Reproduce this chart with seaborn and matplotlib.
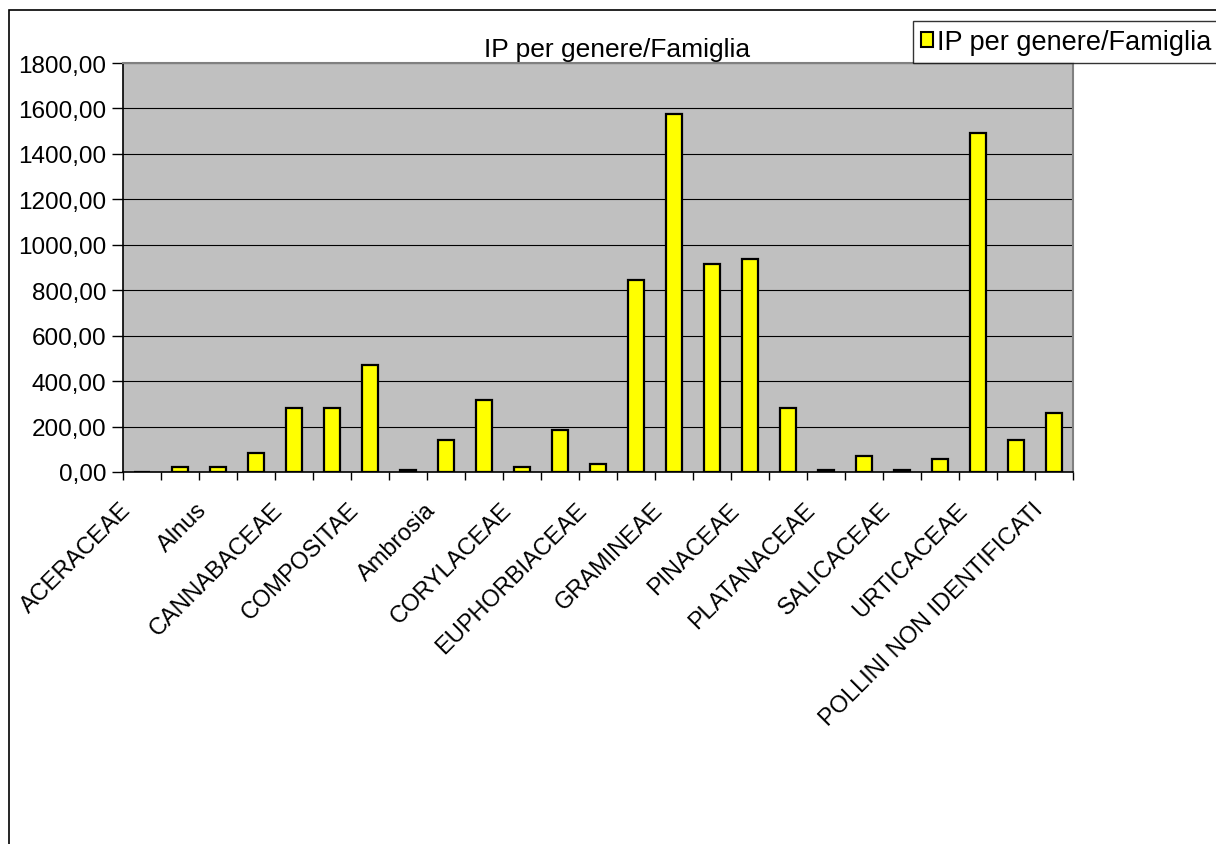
import numpy as np
import pandas as pd
import seaborn as sns
import matplotlib
matplotlib.use("Agg")
import matplotlib.pyplot as plt
import matplotlib.transforms as mtransforms
from matplotlib.patches import Rectangle, Patch
from matplotlib.ticker import FixedLocator, FuncFormatter

# Pollen index per family / genus
categories = [
    "ACERACEAE", "BETULACEAE", "Alnus", "Betula", "CANNABACEAE",
    "CHENOPODIACEAE/AMARANTHACEAE", "COMPOSITAE", "Artemisia", "Ambrosia",
    "CUPRESSACEAE/TAXACEAE", "CORYLACEAE", "Corylus", "EUPHORBIACEAE",
    "FAGACEAE", "GRAMINEAE", "OLEACEAE", "PINACEAE", "PLANTAGINACEAE",
    "PLATANACEAE", "POLYGONACEAE", "SALICACEAE", "ULMACEAE", "URTICACEAE",
    "ALTRI POLLINI", "POLLINI NON IDENTIFICATI",
]
ip_values = [2, 24, 24, 82, 280, 280, 470, 10, 139, 317, 24, 187, 34,
             845, 1574, 917, 939, 280, 10, 69, 10, 59, 1492, 139, 258]
series_name = "IP per genere/Famiglia"
y_ticks = [0, 200, 400, 600, 800, 1000, 1200, 1400, 1600, 1800]

sns.set_style("white")
plt.rcParams["font.family"] = ["Liberation Sans", "DejaVu Sans"]
plt.rcParams["text.color"] = "black"
plt.rcParams["xtick.color"] = "black"
plt.rcParams["ytick.color"] = "black"
plt.rcParams["axes.labelcolor"] = "black"

W, H = 1216, 845
fig = plt.figure(figsize=(W / 100, H / 100), dpi=100)
ax = fig.add_axes([123 / W, 1 - 473 / H, (1073 - 123) / W, (473 - 64) / H])
ax.set_facecolor("#C0C0C0")

df = pd.DataFrame({"categoria": categories, "IP": ip_values})
sns.barplot(data=df, x="categoria", y="IP", order=categories, color="#FFFF00",
            saturation=1, width=0.42, edgecolor="black", linewidth=1.6, ax=ax)

ax.set_xlim(-0.5, len(categories) - 0.5)
ax.set_ylim(0, 1800)
ax.set_xlabel("")
ax.set_ylabel("")

# y axis: comma decimal labels, outward ticks, black gridlines
ax.set_yticks(y_ticks)
ax.yaxis.set_major_formatter(FuncFormatter(lambda v, p: f"{v:.2f}".replace(".", ",")))
ax.tick_params(axis="y", which="major", direction="out", length=8, width=1,
               color="black", pad=4, labelsize=17.5, labelcolor="black", left=True)
ax.yaxis.grid(True, color="black", linewidth=0.8)
ax.set_axisbelow(True)

# x axis: tick marks on category boundaries, every other label shown
ax.set_xticks(range(len(categories)))
ax.set_xticklabels([c if i % 2 == 0 else "" for i, c in enumerate(categories)],
                   rotation=45, ha="right", va="top", rotation_mode="anchor",
                   fontsize=17, color="black")
ax.xaxis.set_minor_locator(FixedLocator(np.arange(-0.5, len(categories), 1.0)))
ax.tick_params(axis="x", which="major", length=0, pad=19)
ax.tick_params(axis="x", which="minor", direction="out", length=6, width=1,
               color="black", bottom=True)
shift = mtransforms.ScaledTranslation(-22 / 100, 0, fig.dpi_scale_trans)
for lbl in ax.get_xticklabels():
    lbl.set_transform(lbl.get_transform() + shift)

for side in ["left", "bottom"]:
    ax.spines[side].set_color("black")
    ax.spines[side].set_linewidth(1.2)
for side in ["top", "right"]:
    ax.spines[side].set_visible(True)
    ax.spines[side].set_color("#808080")
    ax.spines[side].set_linewidth(1.5)

ax.set_title(series_name, fontsize=19, pad=5, color="black", x=0.52)

handle = Patch(facecolor="#FFFF00", edgecolor="black", linewidth=1.5)
leg = fig.legend([handle], [series_name], loc="upper left",
                 bbox_to_anchor=(913 / W, 1 - 22 / H), bbox_transform=fig.transFigure,
                 borderaxespad=0, fontsize=19.5, frameon=True, fancybox=False,
                 handlelength=0.45, handleheight=0.45, handletextpad=0.15,
                 borderpad=0.3)
leg.get_frame().set_edgecolor("black")
leg.get_frame().set_linewidth(1.0)
for t in leg.get_texts():
    t.set_color("black")

# chart area border
fig.add_artist(Rectangle((9 / W, -0.1), 1.2, (H - 11) / H + 0.1,
                         transform=fig.transFigure, fill=False,
                         edgecolor="black", linewidth=1.2))

fig.savefig("out.png", dpi=100)
